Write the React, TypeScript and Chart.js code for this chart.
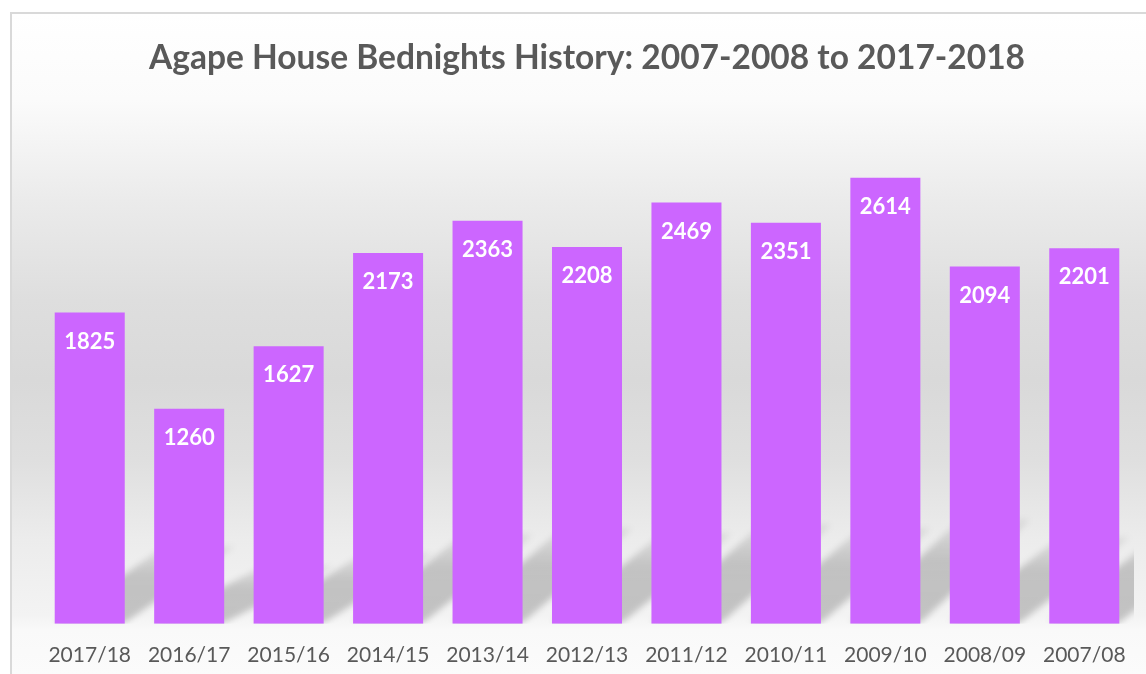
import { useEffect, useRef } from "react";
import { Chart, registerables } from "chart.js";

Chart.register(...registerables);

const categories = [
  "2017/18", "2016/17", "2015/16", "2014/15", "2013/14", "2012/13",
  "2011/12", "2010/11", "2009/10", "2008/09", "2007/08",
];
const bednights = [1825, 1260, 1627, 2173, 2363, 2208, 2469, 2351, 2614, 2094, 2201];
const yMin = 0;
const yMax = 3000;
const titleText = "Agape House Bednights History: 2007-2008 to 2017-2018";

const W = 1146;
const H = 674;

export default function App() {
  const ref = useRef<HTMLCanvasElement>(null);

  useEffect(() => {
    const canvas = ref.current!;
    const decor = {
      id: "decor",
      beforeDraw(chart: any) {
        const { ctx, width, height } = chart;
        ctx.save();
        ctx.fillStyle = "#ffffff";
        ctx.fillRect(0, 0, width, height);
        const y0 = 13;
        const span = height - y0;
        const g = ctx.createLinearGradient(0, y0, 0, height);
        const stops: [number, string][] = [
          [13, "#ffffff"],
          [100, "#fbfbfb"],
          [200, "#ebebeb"],
          [300, "#dedede"],
          [380, "#d9d9d9"],
          [460, "#dfdfdf"],
          [540, "#ececec"],
          [615, "#f3f3f3"],
          [630, "#f9f9f9"],
          [674, "#fbfbfb"],
        ];
        stops.forEach(([y, c]) => g.addColorStop(Math.min(1, Math.max(0, (y - y0) / span)), c));
        ctx.fillStyle = g;
        ctx.fillRect(11, 13, width - 11, height - 13);
        ctx.fillStyle = "#d9d9d9";
        ctx.fillRect(10, 12, width - 10, 2);
        ctx.fillRect(10, 12, 2, height - 12);
        ctx.font = "bold 33.5px Lato";
        ctx.fillStyle = "#595959";
        ctx.textAlign = "center";
        ctx.textBaseline = "alphabetic";
        ctx.fillText(titleText, 587, 69);
        ctx.restore();
      },
      beforeDatasetsDraw(chart: any) {
        const { ctx, chartArea } = chart;
        const meta = chart.getDatasetMeta(0);
        ctx.save();
        ctx.beginPath();
        ctx.rect(chartArea.left, chartArea.top, chartArea.right - chartArea.left, chartArea.bottom - chartArea.top);
        ctx.clip();
        ctx.filter = "blur(3px)";
        meta.data.forEach((bar: any) => {
          const half = bar.width / 2;
          const left = bar.x - half;
          const right = bar.x + half;
          const bottom = bar.base - 1;
          const barH = bar.base - bar.y;
          const h = 0.2 * barH + 14;
          const dx = 110;
          const grad = ctx.createLinearGradient(0, bottom, 0, bottom - h);
          grad.addColorStop(0, "rgba(0,0,0,0.20)");
          grad.addColorStop(0.6, "rgba(0,0,0,0.19)");
          grad.addColorStop(1, "rgba(0,0,0,0.06)");
          ctx.fillStyle = grad;
          ctx.beginPath();
          ctx.moveTo(left, bottom);
          ctx.lineTo(right, bottom);
          ctx.lineTo(right + dx, bottom - h);
          ctx.lineTo(left + dx, bottom - h);
          ctx.closePath();
          ctx.fill();
        });
        ctx.restore();
      },
      afterDatasetsDraw(chart: any) {
        const { ctx } = chart;
        const meta = chart.getDatasetMeta(0);
        const values = chart.data.datasets[0].data as number[];
        ctx.save();
        ctx.font = "bold 22px Lato";
        ctx.fillStyle = "#ffffff";
        ctx.textAlign = "center";
        ctx.textBaseline = "middle";
        meta.data.forEach((bar: any, i: number) => {
          ctx.fillText(String(values[i]), bar.x, bar.y + 29);
        });
        ctx.restore();
      },
    };

    const chart = new Chart(canvas, {
      type: "bar",
      data: {
        labels: categories,
        datasets: [
          {
            data: bednights,
            backgroundColor: "#CC66FF",
            borderWidth: 0,
            categoryPercentage: 1,
            barPercentage: 0.704,
          },
        ],
      },
      options: {
        responsive: false,
        animation: false,
        devicePixelRatio: 1,
        layout: { padding: { top: 112, left: 40, right: 12, bottom: -13 } },
        plugins: {
          legend: { display: false },
          title: { display: false },
          tooltip: { enabled: false },
        },
        scales: {
          x: {
            grid: { display: false, drawTicks: false, tickLength: 0 },
            border: { display: false },
            ticks: {
              color: "#595959",
              font: { family: "Lato", size: 21 },
              padding: 19,
              maxRotation: 0,
              autoSkip: false,
            },
          },
          y: {
            display: false,
            min: yMin,
            max: yMax,
          },
        },
      },
      plugins: [decor],
    });

    if ((document as any).fonts?.ready) {
      (document as any).fonts.ready.then(() => chart.update());
    }

    return () => chart.destroy();
  }, []);

  return (
    <div style={{ position: "absolute", left: 0, top: 0, width: W, height: H }}>
      <canvas ref={ref} width={W} height={H} style={{ width: W, height: H, display: "block" }} />
    </div>
  );
}
